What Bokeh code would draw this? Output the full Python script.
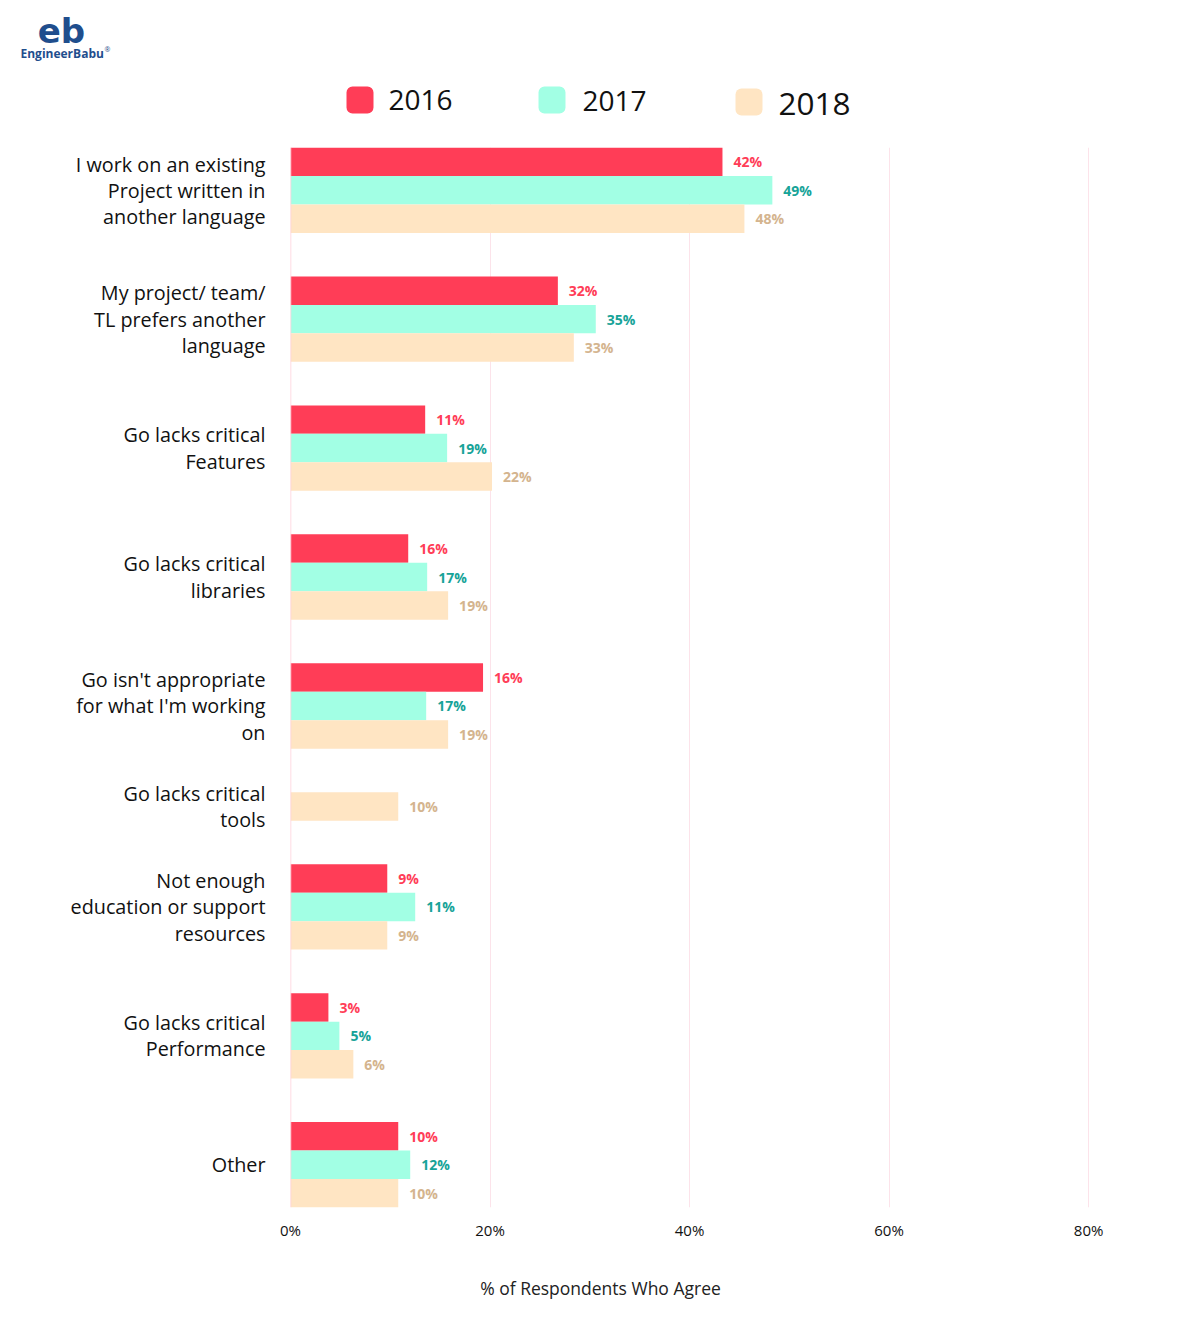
from bokeh.plotting import figure
from bokeh.models import FactorRange, Range1d, FixedTicker, ColumnDataSource, Span
from bokeh.layouts import column, row
from bokeh.embed import file_html
from bokeh.resources import INLINE
from bokeh.core.properties import value

# ---------------- data ----------------
categories = [
    "I work on an existing\nProject written in\nanother language",
    "My project/ team/\nTL prefers another\nlanguage",
    "Go lacks critical\nFeatures",
    "Go lacks critical\nlibraries",
    "Go isn't appropriate\nfor what I'm working\non",
    "Go lacks critical\ntools",
    "Not enough\neducation or support\nresources",
    "Go lacks critical\nPerformance",
    "Other",
]
years = ["2016", "2017", "2018"]
# bar lengths (as drawn, in % of axis)
v2016 = [43.3, 26.8, 13.5, 11.8, 19.3, None, 9.7, 3.8, 10.8]
v2017 = [48.3, 30.6, 15.7, 13.7, 13.6, None, 12.5, 4.9, 12.0]
v2018 = [45.5, 28.4, 20.2, 15.8, 15.8, 10.8, 9.7, 6.3, 10.8]
# value labels printed next to the bars
l2016 = ["42%", "32%", "11%", "16%", "16%", None, "9%", "3%", "10%"]
l2017 = ["49%", "35%", "19%", "17%", "17%", None, "11%", "5%", "12%"]
l2018 = ["48%", "33%", "22%", "19%", "19%", "10%", "9%", "6%", "10%"]
tick_values = [0, 20, 40, 60, 80]
tick_labels = ["0%", "20%", "40%", "60%", "80%"]
x_title = "% of Respondents Who Agree"
brand = "EngineerBabu"

bar_colors = ["#ff3d57", "#a2ffe4", "#ffe5c3"]
label_colors = ["#ff3d57", "#17a398", "#d4b48e"]
FONT = "Open Sans"

# ---------------- factors ----------------
series_vals = [v2016, v2017, v2018]
series_lbls = [l2016, l2017, l2018]
factors = []
for i, c in enumerate(categories):
    for y, vals in zip(years, series_vals):
        if vals[i] is not None:
            factors.append((c, y))
yr = FactorRange(factors=list(reversed(factors)), group_padding=1.53, range_padding=0)

TOP, BOTTOM = 7, 48
MAIN_H = TOP + 1060 + BOTTOM
LEFT_W = 270
MAIN_BL = 20
FRAME_W = 838
MAIN_BR = 64
MAIN_W = MAIN_BL + FRAME_W + MAIN_BR
TOTAL_W = LEFT_W + MAIN_W

# ---------------- main plot ----------------
p = figure(width=MAIN_W, height=MAIN_H, y_range=yr, x_range=Range1d(0, 84.0),
           output_backend="svg", toolbar_location=None,
           min_border_left=MAIN_BL, min_border_right=MAIN_BR,
           min_border_top=TOP, min_border_bottom=BOTTOM)
p.outline_line_color = None
p.background_fill_color = "white"
p.border_fill_color = "white"
p.yaxis.visible = False
p.ygrid.grid_line_color = None
p.xgrid.ticker = FixedTicker(ticks=tick_values)
p.xgrid.grid_line_color = "#fce3ea"
p.xgrid.grid_line_width = 1

p.xaxis.ticker = FixedTicker(ticks=tick_values)
p.xaxis.major_label_overrides = {t: l for t, l in zip(tick_values, tick_labels)}
p.xaxis.axis_line_color = None
p.xaxis.major_tick_line_color = None
p.xaxis.minor_tick_line_color = None
p.xaxis.major_tick_out = 0
p.xaxis.major_tick_in = 0
p.xaxis.major_label_standoff = 12
p.xaxis.major_label_text_font = FONT
p.xaxis.major_label_text_font_size = "15px"
p.xaxis.major_label_text_color = "#111111"

for k, (yname, vals, lbls) in enumerate(zip(years, series_vals, series_lbls)):
    ys, xs, ts = [], [], []
    for i, c in enumerate(categories):
        if vals[i] is not None:
            ys.append((c, yname)); xs.append(vals[i]); ts.append(lbls[i])
    src = ColumnDataSource(dict(y=ys, x=xs, t=ts))
    p.hbar(y="y", right="x", left=0, height=1.0, source=src,
           fill_color=bar_colors[k], line_color=None)
    p.text(x="x", y="y", text="t", source=src, x_offset=11,
           text_align="left", text_baseline="middle",
           text_font=value(FONT), text_font_size="14px", text_font_style="bold",
           text_color=label_colors[k])

p.add_layout(Span(location=0, dimension="height", line_color="#ffd0da", line_width=1.5))

# ---------------- category labels (left) ----------------
left = figure(width=LEFT_W, height=MAIN_H, y_range=yr, x_range=Range1d(0, LEFT_W),
              output_backend="svg", toolbar_location=None,
              min_border_left=0, min_border_right=0, min_border_top=TOP, min_border_bottom=BOTTOM)
left.axis.visible = False
left.grid.grid_line_color = None
left.outline_line_color = None
lab_y = []
for i, c in enumerate(categories):
    if v2017[i] is not None:
        lab_y.append((c, "2017"))
    else:
        lab_y.append((c, "2018"))
left.text(x=[265] * len(categories), y=lab_y, text=categories,
          text_align="right", text_baseline="middle", text_line_height=0.97,
          text_font=value(FONT), text_font_size="19.8px", text_color="#111111")

# ---------------- header (logo + legend) ----------------
HDR_H = 140
hdr = figure(width=TOTAL_W, height=HDR_H, x_range=Range1d(0, TOTAL_W), y_range=Range1d(HDR_H, 0),
             output_backend="svg", toolbar_location=None,
             min_border=0)
hdr.axis.visible = False
hdr.grid.grid_line_color = None
hdr.outline_line_color = None
BLUE = "#1f4e8d"
hdr.text(x=[61], y=[30], text=["eb"], text_align="center", text_baseline="middle",
         text_font=value("DejaVu Sans"), text_font_size="34px", text_font_style="bold",
         text_color=BLUE)
hdr.text(x=[20], y=[53], text=[brand], text_align="left", text_baseline="middle",
         text_font=value(FONT), text_font_size="12px", text_font_style="bold", text_color=BLUE)
hdr.text(x=[104], y=[49], text=["®"], text_align="left", text_baseline="middle",
         text_font=value(FONT), text_font_size="7px", text_color=BLUE)

sq_l = [346, 538, 735]
sq_t = [86, 86, 88]
sq_s = 27
try:
    hdr.quad(left=sq_l, right=[v + sq_s for v in sq_l], top=sq_t, bottom=[v + sq_s for v in sq_t],
             fill_color=bar_colors, line_color=None, border_radius=6)
except Exception:
    hdr.quad(left=sq_l, right=[v + sq_s for v in sq_l], top=sq_t, bottom=[v + sq_s for v in sq_t],
             fill_color=bar_colors, line_color=None)
lx = [388, 582, 778]
ly = [99, 100, 103]
lsz = ["28px", "28px", "31.5px"]
for k in range(3):
    hdr.text(x=[lx[k]], y=[ly[k]], text=[years[k]], text_align="left", text_baseline="middle",
             text_font=value(FONT), text_font_size=lsz[k], text_color="#111111")

# ---------------- footer (axis title) ----------------
FTR_H = 62
ftr = figure(width=TOTAL_W, height=FTR_H, x_range=Range1d(0, TOTAL_W), y_range=Range1d(FTR_H, 0),
             output_backend="svg", toolbar_location=None, min_border=0)
ftr.axis.visible = False
ftr.grid.grid_line_color = None
ftr.outline_line_color = None
ftr.text(x=[600], y=[32], text=[x_title], text_align="center", text_baseline="middle",
         text_font=value(FONT), text_font_size="17.5px", text_color="#222222")

layout = column(hdr, row(left, p), ftr)
open("out.html", "w").write(file_html(layout, INLINE))
